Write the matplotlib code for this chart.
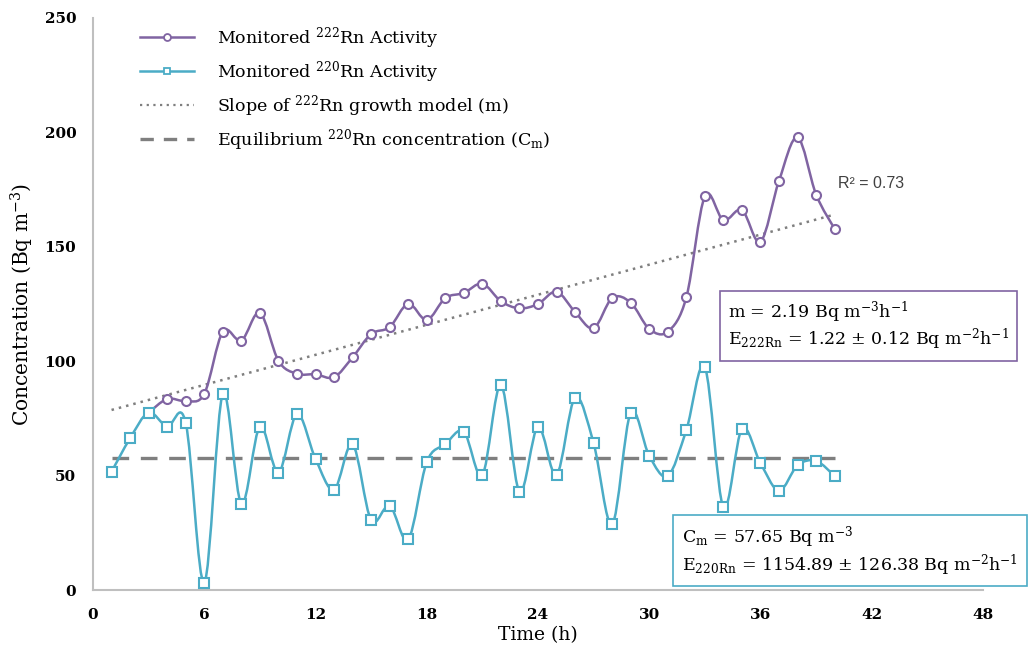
import numpy as np
import matplotlib
matplotlib.use("Agg")
import matplotlib.pyplot as plt
from matplotlib.path import Path
from matplotlib.patches import PathPatch
from matplotlib.lines import Line2D

# ---------------- data ----------------
hours_222 = list(range(3, 41))
rn222 = [77.5, 83.5, 82.6, 85.7, 112.9, 109.0, 121.2, 100.2, 94.5, 94.3, 93.0,
         101.7, 111.9, 114.9, 125.1, 118.0, 127.6, 129.8, 133.9, 126.2, 123.1,
         125.0, 130.4, 121.5, 114.4, 127.6, 125.6, 114.1, 112.9, 127.9, 172.1,
         161.6, 166.1, 152.2, 178.9, 197.8, 172.8, 157.8]
hours_220 = list(range(1, 41))
rn220 = [51.7, 66.3, 77.5, 71.4, 73.1, 3.2, 85.7, 37.7, 71.4, 51.3, 76.9, 57.3,
         43.8, 63.7, 30.5, 36.9, 22.1, 55.9, 63.7, 69.2, 50.3, 89.6, 43.0, 71.4,
         50.3, 84.1, 64.1, 28.7, 77.5, 58.6, 49.8, 69.9, 97.3, 36.1, 70.5, 55.4,
         43.4, 54.5, 56.4, 49.8]
trend_slope = 2.19
trend_intercept = 76.5
trend_span = [1, 40]
cm_value = 57.65
cm_span = [1, 40]
x_ticks = [0, 6, 12, 18, 24, 30, 36, 42, 48]
y_ticks = [0, 50, 100, 150, 200, 250]
r2_text = "R² = 0.73"

PURPLE = "#8064A2"
CYAN = "#4BACC6"
GRAY = "#7F7F7F"

plt.rcParams['font.family'] = ['DejaVu Serif']
plt.rcParams['mathtext.fontset'] = 'custom'
plt.rcParams['mathtext.rm'] = 'DejaVu Serif'
plt.rcParams['mathtext.it'] = 'DejaVu Serif:italic'
plt.rcParams['mathtext.default'] = 'regular'


def smooth_path(xs, ys):
    """Excel-style smoothed line via cubic Bezier segments."""
    pts = np.column_stack([xs, ys]).astype(float)
    n = len(pts)
    verts = [pts[0]]
    codes = [Path.MOVETO]
    for i in range(n - 1):
        p0 = pts[i - 1] if i > 0 else pts[i]
        p1 = pts[i]
        p2 = pts[i + 1]
        p3 = pts[i + 2] if i + 2 < n else pts[i + 1]
        c1 = p1 + (p2 - p0) / 6.0
        c2 = p2 - (p3 - p1) / 6.0
        verts += [c1, c2, p2]
        codes += [Path.CURVE4] * 3
    return Path(verts, codes)


fig = plt.figure(figsize=(10.29, 6.55), dpi=100)
ax = fig.add_axes([93 / 1029, 1 - 590 / 655, (983 - 93) / 1029, (590 - 18) / 655])
ax.set_xlim(0, 48)
ax.set_ylim(0, 250)

# trend line and equilibrium line
tx = np.array(trend_span, dtype=float)
ax.plot(tx, trend_slope * tx + trend_intercept, linestyle=(0, (1, 2.0)),
        color=GRAY, lw=1.8, zorder=2)
ax.plot(cm_span, [cm_value, cm_value], linestyle=(0, (5, 3.5)), color=GRAY,
        lw=2.4, zorder=2)

# smoothed series
ax.add_patch(PathPatch(smooth_path(hours_222, rn222), fill=False,
                       edgecolor=PURPLE, lw=1.8, zorder=3))
ax.plot(hours_222, rn222, linestyle='none', marker='o', ms=6.5,
        mfc='white', mec=PURPLE, mew=1.5, zorder=4)
ax.add_patch(PathPatch(smooth_path(hours_220, rn220), fill=False,
                       edgecolor=CYAN, lw=1.8, zorder=5))
ax.plot(hours_220, rn220, linestyle='none', marker='s', ms=6.5,
        mfc='white', mec=CYAN, mew=1.5, zorder=6)

# axes styling
for s in ['top', 'right']:
    ax.spines[s].set_visible(False)
for s in ['left', 'bottom']:
    ax.spines[s].set_color('#BFBFBF')
    ax.spines[s].set_linewidth(1.5)
ax.set_xticks(x_ticks)
ax.set_yticks(y_ticks)
ax.tick_params(length=0, labelsize=11)
ax.tick_params(axis='y', pad=12)
ax.tick_params(axis='x', pad=13)
for lab in ax.get_xticklabels() + ax.get_yticklabels():
    lab.set_fontweight('bold')
ax.set_xlabel('Time (h)', fontsize=13.5, labelpad=3)
ax.set_ylabel('Concentration (Bq m$^{-3}$)', fontsize=14.5, labelpad=6)

# legend
handles = [
    Line2D([], [], color=PURPLE, lw=1.8, marker='o', ms=5, mfc='white', mec=PURPLE, mew=1.3),
    Line2D([], [], color=CYAN, lw=1.8, marker='s', ms=5, mfc='white', mec=CYAN, mew=1.3),
    Line2D([], [], color=GRAY, lw=1.6, linestyle=(0, (1, 2))),
    Line2D([], [], color=GRAY, lw=2.4, linestyle=(0, (4, 3))),
]
labels = [
    'Monitored $^{222}$Rn Activity',
    'Monitored $^{220}$Rn Activity',
    'Slope of $^{222}$Rn growth model (m)',
    'Equilibrium $^{220}$Rn concentration (C$_{m}$)',
]
ax.legend(handles, labels, loc='upper left', frameon=False, fontsize=12.6,
          handlelength=3.1, handletextpad=1.3, labelspacing=0.46,
          bbox_to_anchor=(140 / 1029, 1 - 25 / 655), bbox_transform=fig.transFigure,
          borderaxespad=0, borderpad=0)

# R^2 text
fig.text(838 / 1029, 1 - 183 / 655, r2_text, fontsize=11.5, family='Liberation Sans',
         color='#404040', va='center', ha='left')

# annotation boxes
fig.text(728 / 1029, 1 - 326 / 655,
         'm = 2.19 Bq m$^{-3}$h$^{-1}$\nE$_{222Rn}$ = 1.22 ± 0.12 Bq m$^{-2}$h$^{-1}$',
         fontsize=12.5, va='center', ha='left', linespacing=1.12,
         bbox=dict(boxstyle='square,pad=0.48', fc='white', ec=PURPLE, lw=1.2))
fig.text(682 / 1029, 1 - 551 / 655,
         'C$_{m}$ = 57.65 Bq m$^{-3}$\nE$_{220Rn}$ = 1154.89 ± 126.38 Bq m$^{-2}$h$^{-1}$',
         fontsize=12.5, va='center', ha='left', linespacing=1.12,
         bbox=dict(boxstyle='square,pad=0.5', fc='white', ec=CYAN, lw=1.2))

fig.savefig('out.png', dpi=100)
